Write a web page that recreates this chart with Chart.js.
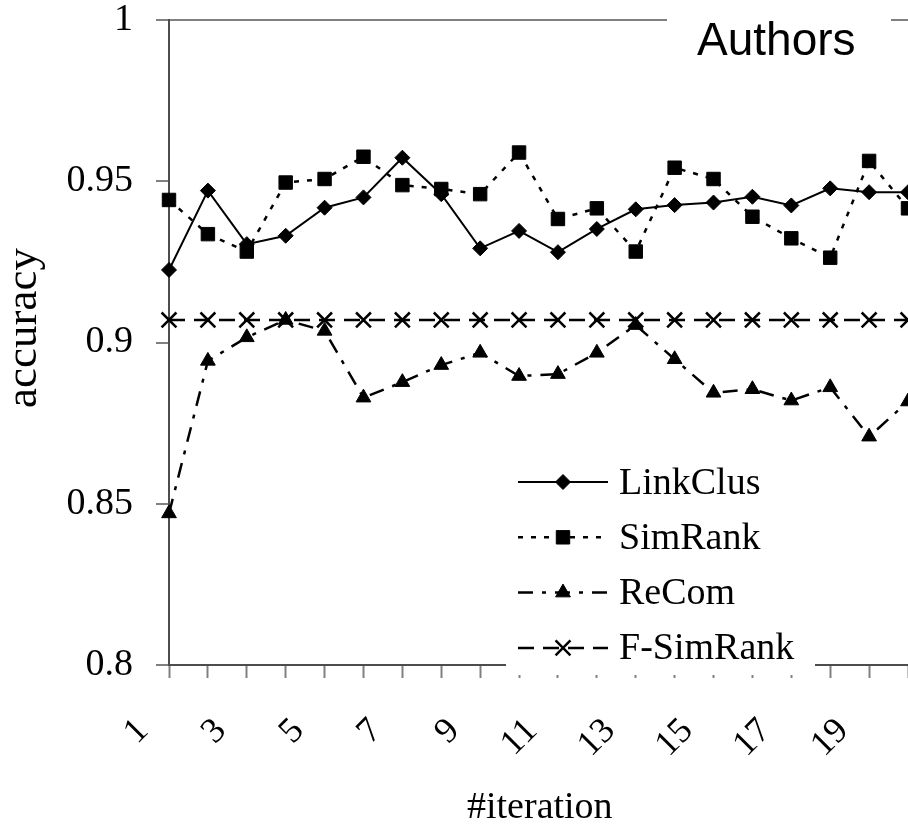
<!DOCTYPE html>
<html>
<head>
<meta charset="utf-8">
<title>Authors - accuracy per iteration</title>
<script src="https://cdn.jsdelivr.net/npm/chart.js"></script>
<style>
  html, body { margin: 0; padding: 0; background: #fff; overflow: hidden; }
  canvas { display: block; }
</style>
</head>
<body>
<canvas id="chart" width="908" height="824"></canvas>
<script>
// values
const iterations = ['1', '2', '3', '4', '5', '6', '7', '8', '9', '10',
                    '11', '12', '13', '14', '15', '16', '17', '18', '19', '20'];
const linkClus = [0.9225, 0.9471, 0.9305, 0.9331, 0.9418, 0.9450, 0.9573, 0.9460, 0.9292, 0.9346,
                  0.9280, 0.9352, 0.9413, 0.9426, 0.9434, 0.9452, 0.9425, 0.9478, 0.9466, 0.9466];
const simRank = [0.9442, 0.9336, 0.9282, 0.9496, 0.9507, 0.9576, 0.9488, 0.9476, 0.9460, 0.9589,
                 0.9383, 0.9416, 0.9282, 0.9542, 0.9507, 0.9390, 0.9323, 0.9263, 0.9563, 0.9416];
const reCom = [0.8470, 0.8943, 0.9016, 0.9070, 0.9036, 0.8829, 0.8877, 0.8930, 0.8968, 0.8896,
               0.8902, 0.8968, 0.9054, 0.8948, 0.8844, 0.8855, 0.8820, 0.8861, 0.8708, 0.8817];
const fSimRank = [0.907, 0.907, 0.907, 0.907, 0.907, 0.907, 0.907, 0.907, 0.907, 0.907,
                  0.907, 0.907, 0.907, 0.907, 0.907, 0.907, 0.907, 0.907, 0.907, 0.907];
const yTicks = [0.8, 0.85, 0.9, 0.95, 1];
const yTickLabels = ['0.8', '0.85', '0.9', '0.95', '1'];

const serif = '"Liberation Serif", "Times New Roman", serif';
Chart.defaults.font.family = serif;
Chart.defaults.color = '#000';

// legend box, title and axis titles drawn on top of the plot
const overlay = {
  id: 'overlay',
  afterDraw(chart) {
    const ctx = chart.ctx;
    ctx.save();

    // legend inside the plot, white box over the lines
    ctx.fillStyle = '#fff';
    ctx.fillRect(506, 452, 309, 223);
    chart.data.datasets.forEach((ds, i) => {
      const y = 482 + i * 55.3;
      ctx.strokeStyle = '#000';
      ctx.lineWidth = ds.borderWidth;
      ctx.setLineDash(ds.borderDash || []);
      ctx.beginPath();
      ctx.moveTo(518, y);
      ctx.lineTo(608, y);
      ctx.stroke();
      ctx.setLineDash([]);
      ctx.fillStyle = '#000';
      ctx.lineWidth = ds.pointBorderWidth;
      Chart.helpers.drawPoint(ctx, {
        pointStyle: ds.pointStyle,
        radius: ds.pointRadius,
        rotation: 0,
        borderWidth: ds.pointBorderWidth
      }, 563, y);
      ctx.font = '38px ' + serif;
      ctx.textAlign = 'left';
      ctx.textBaseline = 'alphabetic';
      ctx.fillText(ds.label, 619, y + 11.5);
    });

    // chart title breaking the top border
    ctx.fillStyle = '#fff';
    ctx.fillRect(667, 8, 224, 24);
    ctx.fillStyle = '#000';
    ctx.font = '46px "Liberation Sans", Arial, sans-serif';
    ctx.textAlign = 'left';
    ctx.fillText('Authors', 697, 55);

    // axis titles
    ctx.font = '38px ' + serif;
    ctx.fillText('#iteration', 467, 818);
    ctx.translate(36, 328);
    ctx.rotate(-Math.PI / 2);
    ctx.textAlign = 'center';
    ctx.font = '45px ' + serif;
    ctx.fillText('accuracy', 0, 0);

    ctx.restore();
  }
};

new Chart(document.getElementById('chart'), {
  type: 'line',
  data: {
    labels: iterations,
    datasets: [
      {
        label: 'LinkClus',
        data: linkClus,
        borderColor: '#000',
        borderWidth: 2,
        borderDash: [],
        pointStyle: 'rectRot',
        pointRadius: 7.5,
        pointBorderWidth: 1,
        pointBackgroundColor: '#000',
        pointBorderColor: '#000'
      },
      {
        label: 'SimRank',
        data: simRank,
        borderColor: '#000',
        borderWidth: 2.5,
        borderDash: [5, 8],
        pointStyle: 'rect',
        pointRadius: 9.5,
        pointBorderWidth: 1,
        pointBackgroundColor: '#000',
        pointBorderColor: '#000'
      },
      {
        label: 'ReCom',
        data: reCom,
        borderColor: '#000',
        borderWidth: 2.5,
        borderDash: [15, 9, 4, 9],
        pointStyle: 'triangle',
        pointRadius: 8.5,
        pointBorderWidth: 1,
        pointBackgroundColor: '#000',
        pointBorderColor: '#000'
      },
      {
        label: 'F-SimRank',
        data: fSimRank,
        borderColor: '#000',
        borderWidth: 2.5,
        borderDash: [16, 9],
        pointStyle: 'crossRot',
        pointRadius: 10.5,
        pointBorderWidth: 2.5,
        pointBackgroundColor: '#000',
        pointBorderColor: '#000'
      }
    ]
  },
  options: {
    responsive: false,
    animation: false,
    layout: {
      autoPadding: false,
      padding: { top: 20, right: 0, bottom: 0, left: 0 }
    },
    plugins: {
      legend: { display: false },
      tooltip: { enabled: false }
    },
    elements: { line: { tension: 0 } },
    scales: {
      x: {
        type: 'category',
        offset: false,
        border: { color: '#4d4d4d', width: 2 },
        grid: {
          drawOnChartArea: false,
          tickLength: 13,
          tickColor: '#808080',
          tickWidth: 2
        },
        ticks: {
          autoSkip: false,
          minRotation: 45,
          maxRotation: 45,
          padding: 32,
          labelOffset: -26,
          font: { size: 36 },
          callback: (value, index) => (index % 2 === 0 ? iterations[index] : '')
        },
        afterFit: (scale) => {
          scale.height = 159;
          scale.paddingLeft = 0;
          scale.paddingRight = 0;
        }
      },
      y: {
        min: 0.8,
        max: 1,
        afterBuildTicks: (scale) => {
          scale.ticks = yTicks.map(v => ({ value: v }));
        },
        border: { color: '#4d4d4d', width: 2 },
        grid: {
          color: (c) => (c.tick && c.tick.value === 1 ? '#808080' : 'rgba(0,0,0,0)'),
          lineWidth: 2,
          tickLength: 13,
          tickColor: '#808080',
          tickWidth: 2
        },
        ticks: {
          padding: 23,
          font: { size: 38 },
          callback: (value, index) => yTickLabels[index]
        },
        afterFit: (scale) => {
          scale.width = 169;
          scale.paddingTop = 0;
          scale.paddingBottom = 0;
        }
      }
    }
  },
  plugins: [overlay]
});
</script>
</body>
</html>
